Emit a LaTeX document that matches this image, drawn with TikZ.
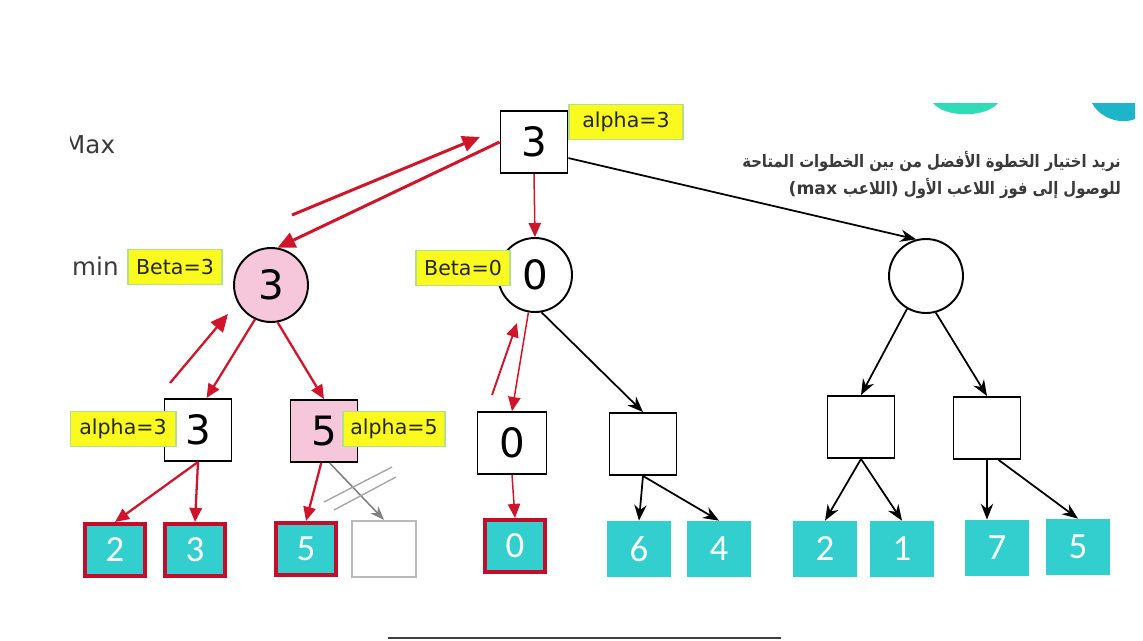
\documentclass[tikz,border=0pt]{standalone}
\usepackage{fontspec}
\setmainfont{DejaVu Sans}
\newfontfamily\arabicfont[Script=Arabic, FakeStretch=0.86]{DejaVu Sans}
\newfontfamily\leaffont{Carlito}
\TeXXeTstate=1
\usetikzlibrary{arrows.meta,positioning}

\definecolor{leafteal}{HTML}{33CFCF}
\definecolor{pinkfill}{HTML}{F6C6DA}
\definecolor{tagyellow}{HTML}{FAFA1E}
\definecolor{taggreen}{HTML}{B4E08C}
\definecolor{pathred}{HTML}{D0152B}
\definecolor{leafred}{HTML}{C40D2A}
\definecolor{textgray}{HTML}{3A3A3A}
\definecolor{blobgreen}{HTML}{2EDDB8}
\definecolor{blobblue}{HTML}{1FB5C8}

\begin{document}
\begin{tikzpicture}[
  x=0.02cm, y=-0.02cm,
  box/.style={draw, line width=1.1pt, fill=white, minimum width=1.34cm, minimum height=1.24cm, inner sep=0pt, font=\fontsize{23}{26}\selectfont},
  minnode/.style={circle, draw, line width=1.1pt, fill=white, minimum size=1.48cm, inner sep=0pt, font=\fontsize{23}{26}\selectfont},
  tag/.style={draw=taggreen, fill=tagyellow, line width=0.8pt, minimum height=0.7cm, inner sep=0pt, text=black!85, font=\fontsize{11.7}{13}\selectfont},
  leaf/.style={fill=leafteal, minimum width=1.28cm, minimum height=1.12cm, inner sep=0pt, text=white, font=\leaffont\fontsize{21}{24}\selectfont},
  visited/.style={leaf, draw=leafred, line width=2.3pt, minimum width=1.2cm, minimum height=1.04cm},
  level/.style={text=textgray, font=\fontsize{14}{16}\selectfont},
  arrow/.style={line width=1pt, -{Stealth[length=9pt, width=7pt]}},
  redarrow/.style={line width=0.85pt, draw=pathred, -{Triangle[length=8pt, width=7pt]}},
  backarrow/.style={line width=1.7pt, draw=pathred, -{Triangle[length=10pt, width=9pt]}},
  cutarrow/.style={line width=0.9pt, draw=gray, -{Stealth[length=8pt, width=6pt]}}
]
\useasboundingbox (0,0) rectangle (1143,640);
\begin{scope}
\clip (70,0) rectangle (1143,640);

\fill[blobgreen] (933,103) .. controls (945,118) and (986,118) .. (998,103) -- cycle;
\fill[blobblue] (1092,103) .. controls (1100,118) and (1120,125) .. (1135,119) -- (1135,103) -- cycle;

\node[level, anchor=west] (maxlbl) at (58,145) {Max};
\node[level, anchor=west] (minlbl) at (66,266) {min};

\node[box] (root) at (534,142) {3};
\node[minnode, fill=pinkfill] (mL) at (271,285) {3};
\node[minnode] (mM) at (535,275) {0};
\node[minnode] (mR) at (926,276) {};

\node[box] (b3) at (198,430) {3};
\node[box, fill=pinkfill] (b5) at (324,431) {5};
\node[box, minimum width=1.38cm] (b0) at (512,443) {0};
\node[box] (bE) at (643,444) {};
\node[box] (bR1) at (861,427) {};
\node[box] (bR2) at (987,428) {};

\node[tag, minimum width=2.28cm] (tagroot) at (626,122) {alpha=3};
\node[tag, minimum width=1.88cm] (tagL) at (175,267) {Beta=3};
\node[tag, minimum width=1.88cm] (tagM) at (463,268) {Beta=0};
\node[tag, minimum width=2.12cm] (tagb3) at (123,429) {alpha=3};
\node[tag, minimum width=2.04cm] (tagb5) at (394,429) {alpha=5};

\node[visited] (l1) at (115,550) {2};
\node[visited] (l2) at (195,550) {3};
\node[visited] (l3) at (306,549) {5};
\node[leaf, fill=white, draw=gray!55, line width=1.3pt] (l4) at (384,549) {};
\node[visited] (l5) at (515,546) {0};
\node[leaf] (l6) at (639,549) {6};
\node[leaf] (l7) at (719,549) {4};
\node[leaf] (l8) at (825,549) {2};
\node[leaf] (l9) at (902,549) {1};
\node[leaf] (l10) at (997,548) {7};
\node[leaf] (l11) at (1078,547) {5};

\node[anchor=north east, align=right, text=textgray, font=\arabicfont\bfseries\fontsize{9.8}{15.6}\selectfont] (goal) at (1127,145)
  {\beginR نريد اختيار الخطوة الأفضل من بين الخطوات المتاحة\endR\\
   \beginR للوصول إلى فوز اللاعب الأول \beginL{\rmfamily(max }اللاعب{\rmfamily)}\endL\endR};

\coordinate (retL1) at (292,215);
\coordinate (retL2) at (480,137);
\coordinate (retb1) at (170,383);
\coordinate (retb2) at (228,314);
\coordinate (retM1) at (492,395);
\coordinate (retM2) at (517,323);

\draw[backarrow] (root.west) -- (mL.80);
\draw[backarrow] (retL1) -- (retL2);
\draw[redarrow] (root.south) -- (mM.north);
\draw[arrow] (root.-25) -- (mR.105);

\draw[redarrow, line width=1.3pt] (mL.-115) -- (b3.75);
\draw[redarrow, line width=1.3pt] (mL.-80) -- (b5.north);
\draw[backarrow, line width=1.3pt] (retb1) -- (retb2);
\draw[redarrow] (mM.-100) -- (b0.north);
\draw[redarrow, line width=1.1pt] (retM1) -- (retM2);
\draw[arrow] (mM.-80) -- (bE.north);
\draw[arrow] (mR.-120) -- (bR1.north);
\draw[arrow] (mR.-75) -- (bR2.north);

\draw[redarrow, line width=1.3pt] (b3.south) -- (l1.north);
\draw[redarrow, line width=1.3pt] (b3.south) -- (l2.north);
\draw[redarrow, line width=1.3pt] (b5.-95) -- (l3.north);
\draw[cutarrow] (b5.-80) -- (l4.north);
\draw[gray!70, line width=0.8pt] (324,502) -- (392,467);
\draw[gray!70, line width=0.8pt] (334,510) -- (396,477);
\draw[redarrow] (b0.south) -- (l5.north);
\draw[arrow] (bE.south) -- (l6.north);
\draw[arrow] (bE.south) -- (l7.north);
\draw[arrow] (bR1.south) -- (l8.north);
\draw[arrow] (bR1.south) -- (l9.north);
\draw[arrow] (bR2.south) -- (bR2.south |- l10.north);
\draw[arrow] (bR2.-70) -- (l11.north);
\end{scope}

\draw[line width=1.2pt, black!75] (388,638) -- (781,638);
\end{tikzpicture}
\end{document}
